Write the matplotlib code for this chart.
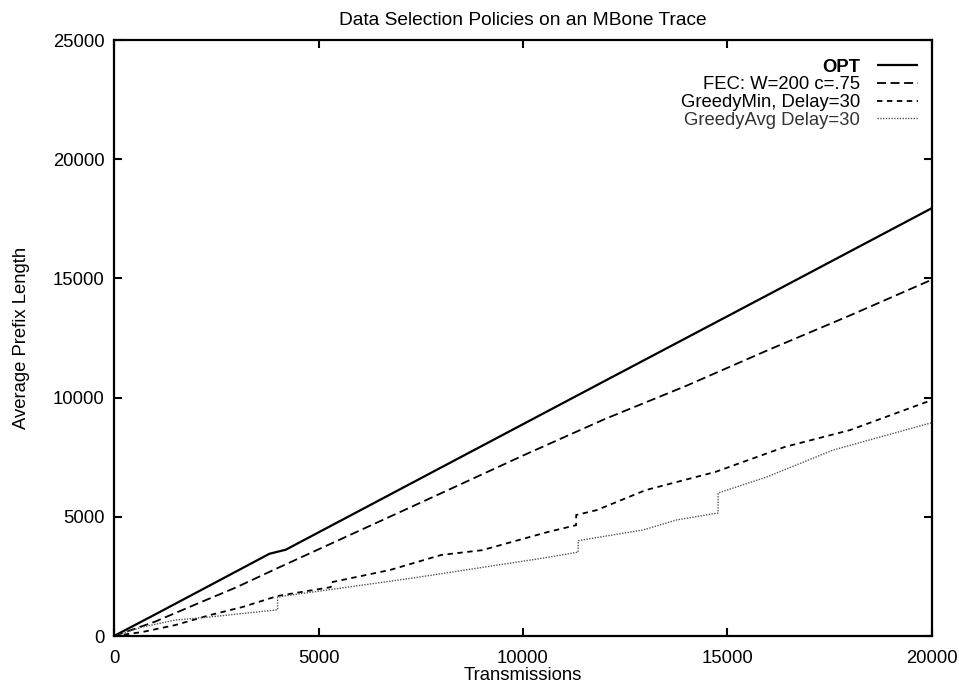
import matplotlib
matplotlib.use("Agg")
import matplotlib.pyplot as plt

plt.rcParams['font.family'] = ['Liberation Sans', 'DejaVu Sans']

title = "Data Selection Policies on an MBone Trace"
xlabel = "Transmissions"
ylabel = "Average Prefix Length"

opt_x = [0, 1000, 2000, 3000, 3800, 4200, 8000, 12000, 16000, 20000]
opt_y = [0, 900, 1810, 2720, 3450, 3620, 7070, 10700, 14320, 17950]

fec_x = [0, 1000, 2000, 3000, 4000, 6000, 8000, 10000, 12000, 14000, 16000, 18000, 20000]
fec_y = [0, 600, 1330, 2050, 2850, 4420, 5990, 7570, 9100, 10500, 12000, 13450, 14950]

gmin_x = [0, 700, 1500, 2350, 3150, 4000, 5300, 5300, 6750, 8000, 9000, 10600,
          11300, 11300, 11800, 13000, 14700, 16400, 18000, 20000]
gmin_y = [0, 170, 460, 880, 1220, 1680, 2050, 2250, 2770, 3400, 3600, 4360,
          4650, 5075, 5280, 6120, 6880, 7930, 8640, 9900]

gavg_x = [0, 700, 1500, 2350, 4000, 4000, 7300, 10500, 11350, 11350, 12940, 13760,
          14770, 14770, 15960, 17580, 20000]
gavg_y = [0, 380, 670, 800, 1100, 1640, 2430, 3270, 3520, 4000, 4450, 4870,
          5160, 6000, 6670, 7800, 8950]

labels = ["OPT", "FEC: W=200 c=.75", "GreedyMin, Delay=30", "GreedyAvg Delay=30"]

xticks = [0, 5000, 10000, 15000, 20000]
yticks = [0, 5000, 10000, 15000, 20000, 25000]

fig = plt.figure(figsize=(9.59, 6.83), dpi=100)
ax = fig.add_axes([0.1189, 0.0688, 0.8529, 0.8726])

l1, = ax.plot(opt_x, opt_y, color='black', lw=1.6, solid_capstyle='butt')
l2, = ax.plot(fec_x, fec_y, color='black', lw=1.3, linestyle=(0, (5, 2.5)))
l3, = ax.plot(gmin_x, gmin_y, color='black', lw=1.3, linestyle=(0, (3, 2.5)))
l4, = ax.plot(gavg_x, gavg_y, color='#555555', lw=1.0, linestyle=(0, (1, 1)))

ax.set_xlim(0, 20000)
ax.set_ylim(0, 25000)
ax.set_xticks(xticks)
ax.set_yticks(yticks)
ax.tick_params(direction='in', length=6, width=1.5, top=True, right=True,
               labelsize=13.3)
ax.tick_params(axis='x', pad=10)
ax.tick_params(axis='y', pad=7)
for s in ax.spines.values():
    s.set_linewidth(1.6)

ax.set_title(title, fontsize=13.8, pad=11)
ax.set_xlabel(xlabel, fontsize=13.3, labelpad=0)
ax.set_ylabel(ylabel, fontsize=13.3, labelpad=16)

leg = ax.legend([l1, l2, l3, l4], labels, loc='upper right', markerfirst=False,
                frameon=False, fontsize=13.3, alignment='right', handlelength=2.2,
                handletextpad=0.95, labelspacing=0.04, borderaxespad=0,
                bbox_to_anchor=(0.992, 0.981))
texts = leg.get_texts()
texts[0].set_fontweight('bold')
texts[3].set_color('#333333')

fig.savefig("out.png", dpi=100)
